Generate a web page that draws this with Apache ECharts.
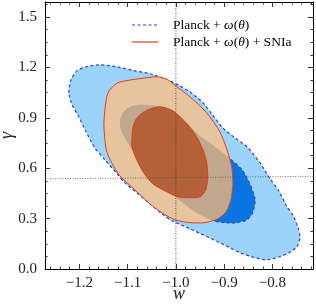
<!DOCTYPE html>
<html><head><meta charset="utf-8">
<script src="https://cdn.jsdelivr.net/npm/echarts@6/dist/echarts.min.js"></script>
<style>html,body{margin:0;padding:0;background:#fff}#c{width:316px;height:305px}</style>
</head><body><div id="c"></div>
<script>
const wTicks = [-1.2, -1.1, -1.0, -0.9, -0.8];
const gammaTicks = [0.0, 0.3, 0.6, 0.9, 1.2, 1.5];
const wMinor = [-1.26,-1.24,-1.22,-1.18,-1.16,-1.14,-1.12,-1.08,-1.06,-1.04,-1.02,-0.98,-0.96,-0.94,-0.92,-0.88,-0.86,-0.84,-0.82,-0.78,-0.76,-0.74,-0.72];
const gammaMinor = [0.075,0.15,0.225,0.375,0.45,0.525,0.675,0.75,0.825,0.975,1.05,1.125,1.275,1.35,1.425,1.575];
const wRange = [-1.271, -0.716];
const gammaRange = [0, 1.59];

// Planck + w(theta): 2-sigma and 1-sigma contours
const planck2 = [[-1.2215,1.049],[-1.217,1.127],[-1.205,1.180],[-1.186,1.204],[-1.157,1.216],[-1.122,1.204],[-1.085,1.180],[-1.054,1.163],[-1.023,1.133],[-0.992,1.091],[-0.971,1.055],[-0.944,0.990],[-0.923,0.913],[-0.903,0.841],[-0.878,0.782],[-0.853,0.728],[-0.826,0.633],[-0.805,0.538],[-0.787,0.466],[-0.770,0.371],[-0.758,0.323],[-0.747,0.246],[-0.743,0.186],[-0.749,0.133],[-0.766,0.097],[-0.785,0.073],[-0.812,0.055],[-0.836,0.067],[-0.867,0.097],[-0.909,0.157],[-0.971,0.240],[-1.008,0.287],[-1.029,0.329],[-1.054,0.389],[-1.081,0.454],[-1.106,0.514],[-1.120,0.561],[-1.147,0.651],[-1.168,0.722],[-1.188,0.829],[-1.203,0.918],[-1.215,0.978]];
const planck1 = [[-1.116,0.883],[-1.110,0.930],[-1.095,0.966],[-1.075,0.978],[-1.043,0.972],[-1.012,0.942],[-0.981,0.877],[-0.950,0.793],[-0.919,0.728],[-0.888,0.657],[-0.863,0.591],[-0.847,0.508],[-0.836,0.413],[-0.841,0.335],[-0.853,0.293],[-0.874,0.276],[-0.899,0.276],[-0.923,0.288],[-0.950,0.323],[-0.981,0.383],[-1.006,0.442],[-1.033,0.520],[-1.064,0.615],[-1.089,0.704],[-1.104,0.770],[-1.114,0.829]];
// Planck + w(theta) + SNIa
const sn2 = [[-1.147,0.770],[-1.149,0.859],[-1.147,0.948],[-1.143,1.026],[-1.137,1.067],[-1.120,1.109],[-1.091,1.127],[-1.060,1.139],[-1.039,1.145],[-1.017,1.127],[-0.998,1.085],[-0.971,1.026],[-0.936,0.930],[-0.909,0.817],[-0.894,0.710],[-0.884,0.603],[-0.882,0.502],[-0.886,0.413],[-0.896,0.341],[-0.913,0.299],[-0.940,0.276],[-0.971,0.276],[-1.002,0.293],[-1.029,0.335],[-1.054,0.389],[-1.085,0.472],[-1.116,0.555],[-1.133,0.633],[-1.143,0.698]];
const sn1 = [[-1.091,0.770],[-1.089,0.841],[-1.083,0.889],[-1.072,0.924],[-1.058,0.948],[-1.033,0.966],[-1.006,0.942],[-0.977,0.865],[-0.957,0.788],[-0.944,0.710],[-0.936,0.633],[-0.934,0.543],[-0.938,0.472],[-0.950,0.430],[-0.971,0.424],[-0.996,0.430],[-1.023,0.466],[-1.048,0.508],[-1.068,0.579],[-1.083,0.663],[-1.091,0.728]];
// reference lines
const refVertical = [[-1.0, 0], [-1.0, 1.59]];
const refTrend = [[-1.271, 0.537], [-0.716, 0.552]];

function clipPoly(subject, clip) {
  let area = 0;
  for (let i = 0; i < clip.length; i++) { const a = clip[i], b = clip[(i+1)%clip.length]; area += a[0]*b[1]-b[0]*a[1]; }
  const ccw = area > 0;
  let output = subject.slice();
  for (let i = 0; i < clip.length && output.length; i++) {
    const A = clip[i], B = clip[(i+1)%clip.length];
    const inside = p => { const c = (B[0]-A[0])*(p[1]-A[1]) - (B[1]-A[1])*(p[0]-A[0]); return ccw ? c >= 0 : c <= 0; };
    const inter = (P, Q) => {
      const x1=P[0],y1=P[1],x2=Q[0],y2=Q[1],x3=A[0],y3=A[1],x4=B[0],y4=B[1];
      const d = (x1-x2)*(y3-y4)-(y1-y2)*(x3-x4);
      if (Math.abs(d) < 1e-12) return Q;
      const t = ((x1-x3)*(y3-y4)-(y1-y3)*(x3-x4))/d;
      return [x1+t*(x2-x1), y1+t*(y2-y1)];
    };
    const input = output; output = [];
    for (let j = 0; j < input.length; j++) {
      const E = input[j], S = input[(j-1+input.length)%input.length];
      if (inside(E)) { if (!inside(S)) output.push(inter(S,E)); output.push(E); }
      else if (inside(S)) output.push(inter(S,E));
    }
  }
  return output;
}
const overlap = clipPoly(planck1, sn2);

const SM = 0.25;
function polySeries(pts, style, z) {
  return {
    type: 'custom', coordinateSystem: 'cartesian2d', xAxisIndex: 0, yAxisIndex: 0,
    data: pts, z: z, silent: true, clip: true, animation: false,
    renderItem: function (params, api) {
      if (params.dataIndex !== 0) return null;
      return { type: 'polygon', shape: { points: pts.map(p => api.coord(p)), smooth: SM }, style: style };
    }
  };
}

const C = {
  light: '#9bd3fa', dark: '#0a74e1', blueLine: '#2547d6',
  tan: '#e8c49e', grey: '#c0a88f', brown: '#b4613a', red: '#d8401e'
};
const serif = 'Liberation Serif';
const fmt = v => (Math.abs(v) < 1e-9 ? 0 : v).toFixed(1).replace('-', '\u2212');

function xAx(pos, major, showLabel) {
  return {
    type: 'value', position: pos, min: wRange[0], max: wRange[1],
    axisLine: { show: major, onZero: false, lineStyle: { color: '#000', width: 1 } },
    axisTick: { show: true, inside: true, length: major ? 5 : 2.5, customValues: major ? wTicks : wMinor, lineStyle: { color: '#000', width: 0.8 } },
    axisLabel: { show: showLabel, customValues: wTicks, formatter: fmt, fontFamily: serif, fontSize: 15, color: '#222', margin: 7 },
    splitLine: { show: false },
    name: showLabel ? 'w' : '', nameLocation: 'middle', nameGap: 16, nameMoveOverlap: false,
    nameTextStyle: { fontFamily: serif, fontStyle: 'italic', fontSize: 18, color: '#222' }
  };
}
function yAx(pos, major, showLabel) {
  return {
    type: 'value', position: pos, min: gammaRange[0], max: gammaRange[1],
    axisLine: { show: major, onZero: false, lineStyle: { color: '#000', width: 1 } },
    axisTick: { show: true, inside: true, length: major ? 5 : 2.5, customValues: major ? gammaTicks : gammaMinor, lineStyle: { color: '#000', width: 0.8 } },
    axisLabel: { show: showLabel, customValues: gammaTicks, formatter: fmt, fontFamily: serif, fontSize: 15, color: '#222', margin: 8 },
    splitLine: { show: false },
    name: showLabel ? '\u03b3' : '', nameLocation: 'middle', nameGap: 29, nameRotate: 90, nameMoveOverlap: false,
    nameTextStyle: { fontFamily: serif, fontStyle: 'italic', fontSize: 18, color: '#222' }
  };
}

const chart = echarts.init(document.getElementById('c'), null, { renderer: 'canvas' });
const legendRich = {
  r: { fontFamily: serif, fontSize: 13.5, color: '#222' },
  i: { fontFamily: serif, fontSize: 13.5, fontStyle: 'italic', color: '#222' }
};
chart.setOption({
  animation: false,
  grid: { left: 45, right: 3, top: 2, bottom: 36, containLabel: false, outerBoundsMode: 'none' },
  xAxis: [xAx('bottom', true, true), xAx('top', true, false), xAx('bottom', false, false), xAx('top', false, false)],
  yAxis: [yAx('left', true, true), yAx('right', true, false), yAx('left', false, false), yAx('right', false, false)],
  series: [
    polySeries(planck2, { fill: C.light, stroke: C.blueLine, lineWidth: 1.2, lineDash: [3, 2.5] }, 1),
    polySeries(planck1, { fill: C.dark, stroke: C.blueLine, lineWidth: 1.2, lineDash: [3, 2.5] }, 2),
    polySeries(sn2, { fill: C.tan, stroke: null }, 3),
    polySeries(overlap, { fill: C.grey, stroke: null }, 4),
    polySeries(sn2, { fill: null, stroke: C.red, lineWidth: 1 }, 5),
    polySeries(sn1, { fill: C.brown, stroke: C.red, lineWidth: 1 }, 6),
    { type: 'line', data: refVertical, showSymbol: false, symbol: 'none', z: 8, silent: true,
      lineStyle: { color: '#333', width: 0.8, type: [1, 1.5] } },
    { type: 'line', data: refTrend, showSymbol: false, symbol: 'none', z: 8, silent: true,
      lineStyle: { color: '#555', width: 0.8, type: [1, 1.5] } }
  ],
  graphic: [
    { type: 'line', shape: { x1: 132, y1: 25, x2: 158, y2: 25 }, style: { stroke: C.blueLine, lineWidth: 1.2, lineDash: [3, 2.5] } },
    { type: 'line', shape: { x1: 132, y1: 42, x2: 158, y2: 42 }, style: { stroke: C.red, lineWidth: 1.2 } },
    { type: 'text', x: 173, y: 25, style: { text: '{r|Planck + }{i|\u03c9}{r|(}{i|\u03b8}{r|)}', rich: legendRich, verticalAlign: 'middle', textVerticalAlign: 'middle' } },
    { type: 'text', x: 173, y: 42, style: { text: '{r|Planck + }{i|\u03c9}{r|(}{i|\u03b8}{r|) + SNIa}', rich: legendRich, verticalAlign: 'middle', textVerticalAlign: 'middle' } }
  ]
});
</script></body></html>
